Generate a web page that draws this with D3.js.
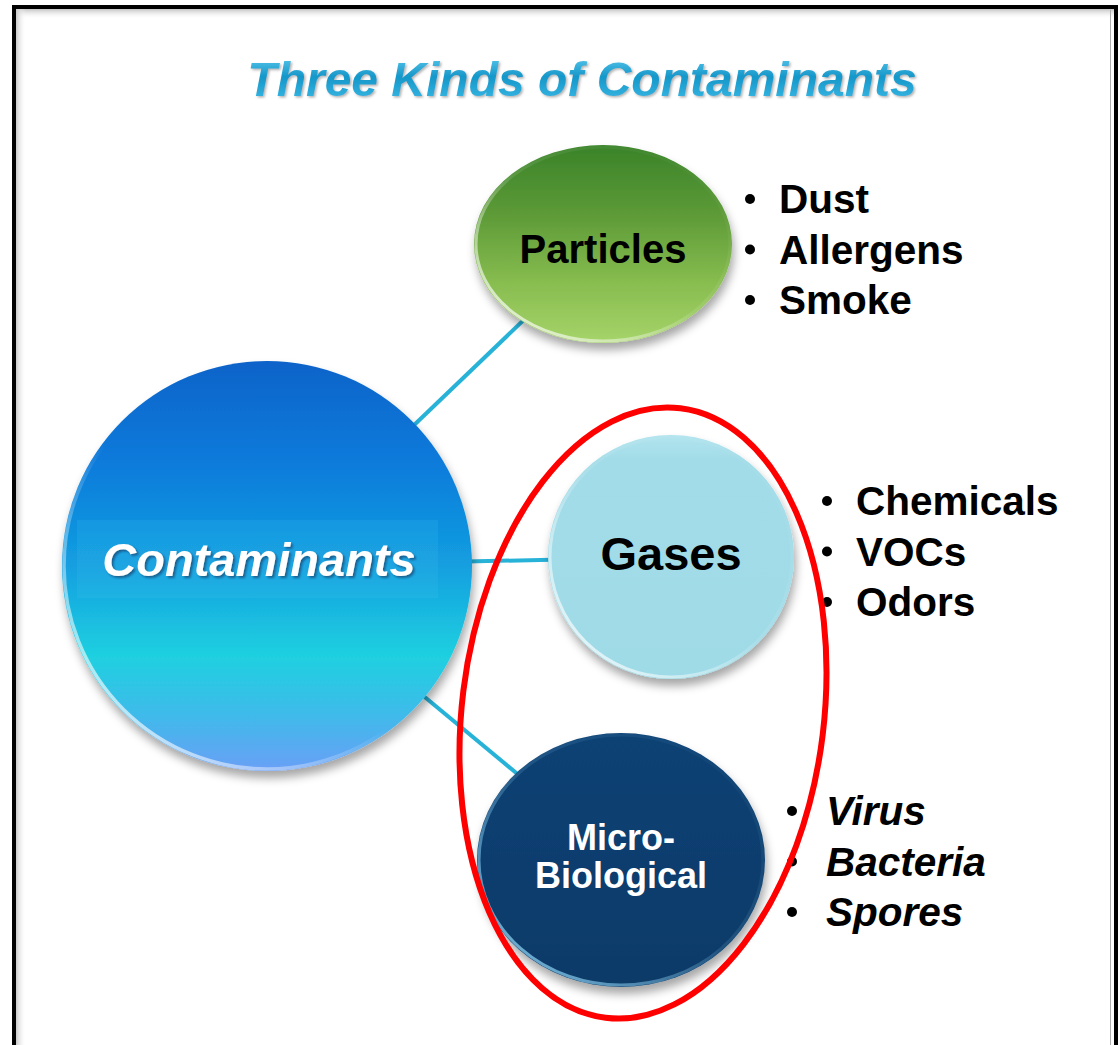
<!DOCTYPE html>
<html>
<head>
<meta charset="utf-8">
<script src="https://cdn.jsdelivr.net/npm/d3@7"></script>
<style>
  html, body { margin: 0; padding: 0; background: #fff; }
  svg { display: block; }
</style>
</head>
<body>
<svg id="chart" width="1118" height="1045"></svg>
<script>
// diagram content
const titleText = 'Three Kinds of Contaminants';
const hubLabel = 'Contaminants';
const groupNames = ['Particles', 'Gases', 'Micro-Biological'];
const groupLines = [['Particles'], ['Gases'], ['Micro-', 'Biological']];
const groupItems = [
  ['Dust', 'Allergens', 'Smoke'],
  ['Chemicals', 'VOCs', 'Odors'],
  ['Virus', 'Bacteria', 'Spores']
];
const italicItems = [false, false, true];

// layout (kept apart from the content)
const hub = { cx: 267, cy: 566, r: 205 };
const groupLayout = [
  { cx: 603, cy: 244, rx: 129, ry: 99, fill: 'url(#gPart)', text: '#000', size: 40, base: 263, lh: 0 },
  { cx: 671, cy: 557, rx: 123, ry: 122, fill: 'url(#gGas)', text: '#000', size: 47, base: 570, lh: 0 },
  { cx: 621, cy: 860, rx: 144, ry: 127, fill: 'url(#gMicro)', text: '#fff', size: 36, base: 850, lh: 38 }
];
const listLayout = [
  { bx: 750, tx: 779, top: 213 },
  { bx: 827, tx: 856, top: 515 },
  { bx: 792, tx: 826, top: 825 }
];
const rowStep = 50.5;

const svg = d3.select('#chart');
const defs = svg.append('defs');

function linGrad(id, stops, x1 = 0, y1 = 0, x2 = 0, y2 = 1) {
  const g = defs.append('linearGradient').attr('id', id)
    .attr('x1', x1).attr('y1', y1).attr('x2', x2).attr('y2', y2);
  stops.forEach(s => g.append('stop').attr('offset', s[0]).attr('stop-color', s[1])
    .attr('stop-opacity', s[2] == null ? 1 : s[2]));
}

linGrad('gHub', [[0, '#0b63c9'], [0.25, '#0a7bdb'], [0.5, '#139fe0'], [0.72, '#1fd0e0'], [0.86, '#3ebbea'], [1, '#6a9ff6']]);
linGrad('gPart', [[0, '#3a8329'], [0.35, '#5d9a37'], [0.7, '#88bd50'], [1, '#a6d46a']]);
linGrad('gGas', [[0, '#b2e4ee'], [0.1, '#a2dce8'], [1, '#9fdbe7']]);
linGrad('gMicro', [[0, '#0e4274'], [1, '#0a3a68']]);
linGrad('gTitle', [[0, '#62cdf0'], [0.45, '#1597c9'], [1, '#40bde8']]);
linGrad('gRim', [[0, '#ffffff', 0], [0.55, '#ffffff', 0], [1, '#ffffff', 0.95]], 1, 0, 0, 1);
linGrad('gRimW', [[0, '#ffffff', 0], [0.5, '#ffffff', 0.1], [1, '#ffffff', 0.9]], 1, 0, 0, 1);
linGrad('gRimB', [[0, '#8fd4f6', 0], [0.5, '#8fd4f6', 0.15], [1, '#8fd4f6', 0.95]], 1, 0, 0, 1);
linGrad('gTop', [[0, '#c4c4c4'], [1, '#ffffff', 0]]);
linGrad('gLeft', [[0, '#c8c8c8'], [1, '#ffffff', 0]], 0, 0, 1, 0);

const shadow = defs.append('filter').attr('id', 'shadow')
  .attr('x', '-20%').attr('y', '-20%').attr('width', '140%').attr('height', '150%');
shadow.append('feDropShadow').attr('dx', 2).attr('dy', 7).attr('stdDeviation', 5)
  .attr('flood-color', '#000').attr('flood-opacity', 0.35);

const txtShadow = defs.append('filter').attr('id', 'txtShadow')
  .attr('x', '-10%').attr('y', '-30%').attr('width', '120%').attr('height', '160%');
txtShadow.append('feDropShadow').attr('dx', 2).attr('dy', 2).attr('stdDeviation', 1.2)
  .attr('flood-color', '#0a2a50').attr('flood-opacity', 0.55);

const titleShadow = defs.append('filter').attr('id', 'titleShadow')
  .attr('x', '-5%').attr('y', '-30%').attr('width', '110%').attr('height', '160%');
titleShadow.append('feDropShadow').attr('dx', 1.5).attr('dy', 1.5).attr('stdDeviation', 1)
  .attr('flood-color', '#666').attr('flood-opacity', 0.5);

// slide frame
svg.append('rect').attr('x', 14).attr('y', 7).attr('width', 1102).attr('height', 1060)
  .attr('fill', '#fff').attr('stroke', '#000').attr('stroke-width', 4);
svg.append('rect').attr('x', 16).attr('y', 9).attr('width', 1098).attr('height', 10).attr('fill', 'url(#gTop)');
svg.append('rect').attr('x', 16).attr('y', 9).attr('width', 10).attr('height', 1040).attr('fill', 'url(#gLeft)');
svg.append('line').attr('x1', 1110.5).attr('x2', 1110.5).attr('y1', 10).attr('y2', 1045)
  .attr('stroke', '#b0b0b0').attr('stroke-width', 1);

// title
svg.append('text')
  .attr('x', 582).attr('y', 96)
  .attr('text-anchor', 'middle')
  .attr('font-family', 'Liberation Sans, Arial, sans-serif')
  .attr('font-weight', 'bold').attr('font-style', 'italic')
  .attr('font-size', 48)
  .attr('fill', 'url(#gTitle)')
  .attr('filter', 'url(#titleShadow)')
  .text(titleText);

// connectors, behind the nodes
svg.append('g').selectAll('line')
  .data(groupLayout)
  .join('line')
  .attr('x1', hub.cx).attr('y1', hub.cy)
  .attr('x2', d => d.cx).attr('y2', d => d.cy)
  .attr('stroke', '#27b2d8').attr('stroke-width', 4);

// hub node
const hubG = svg.append('g');
hubG.append('circle').attr('cx', hub.cx).attr('cy', hub.cy).attr('r', hub.r)
  .attr('fill', 'url(#gHub)').attr('filter', 'url(#shadow)');
hubG.append('rect')
  .attr('x', 77).attr('y', 520).attr('width', 361).attr('height', 78)
  .attr('fill', '#3cc4f0').attr('opacity', 0.18);
hubG.append('circle').attr('cx', hub.cx).attr('cy', hub.cy).attr('r', hub.r - 2)
  .attr('fill', 'none').attr('stroke', 'url(#gRim)').attr('stroke-width', 3.5);
hubG.append('text')
  .attr('x', 259).attr('y', 576)
  .attr('text-anchor', 'middle')
  .attr('font-family', 'Liberation Sans, Arial, sans-serif')
  .attr('font-weight', 'bold').attr('font-style', 'italic')
  .attr('font-size', 47)
  .attr('fill', '#fff')
  .attr('filter', 'url(#txtShadow)')
  .text(hubLabel);

// group nodes
const nodeG = svg.append('g').selectAll('g')
  .data(groupNames)
  .join('g');

nodeG.append('ellipse')
  .attr('cx', (d, i) => groupLayout[i].cx).attr('cy', (d, i) => groupLayout[i].cy)
  .attr('rx', (d, i) => groupLayout[i].rx).attr('ry', (d, i) => groupLayout[i].ry)
  .attr('fill', (d, i) => groupLayout[i].fill)
  .attr('filter', 'url(#shadow)');

nodeG.append('ellipse')
  .attr('cx', (d, i) => groupLayout[i].cx).attr('cy', (d, i) => groupLayout[i].cy)
  .attr('rx', (d, i) => groupLayout[i].rx - 2).attr('ry', (d, i) => groupLayout[i].ry - 2)
  .attr('fill', 'none')
  .attr('stroke', (d, i) => i === 2 ? 'url(#gRimB)' : 'url(#gRimW)')
  .attr('stroke-width', 3);

nodeG.each(function(d, i) {
  const L = groupLayout[i];
  const t = d3.select(this).append('text')
    .attr('text-anchor', 'middle')
    .attr('font-family', 'Liberation Sans, Arial, sans-serif')
    .attr('font-weight', 'bold')
    .attr('font-size', L.size)
    .attr('fill', L.text);
  groupLines[i].forEach((line, k) => {
    t.append('tspan').attr('x', L.cx).attr('y', L.base + k * L.lh).text(line);
  });
});

// bullet lists
groupItems.forEach((items, i) => {
  const L = listLayout[i];
  const y = d3.scaleLinear().domain([0, items.length - 1])
    .range([L.top, L.top + rowStep * (items.length - 1)]);
  const g = svg.append('g');
  g.selectAll('circle').data(items).join('circle')
    .attr('cx', L.bx).attr('cy', (d, k) => y(k) - 14).attr('r', 5)
    .attr('fill', '#000');
  g.selectAll('text').data(items).join('text')
    .attr('x', L.tx).attr('y', (d, k) => y(k))
    .attr('font-family', 'Liberation Sans, Arial, sans-serif')
    .attr('font-weight', 'bold')
    .attr('font-style', italicItems[i] ? 'italic' : 'normal')
    .attr('font-size', 40.5)
    .attr('fill', '#000')
    .text(d => d);
});

// highlight ring round gases and micro-biological
svg.append('ellipse')
  .attr('cx', 0).attr('cy', 0).attr('rx', 181).attr('ry', 307)
  .attr('transform', 'translate(643,713) rotate(7)')
  .attr('fill', 'none').attr('stroke', '#ff0000').attr('stroke-width', 6);
</script>
</body>
</html>
